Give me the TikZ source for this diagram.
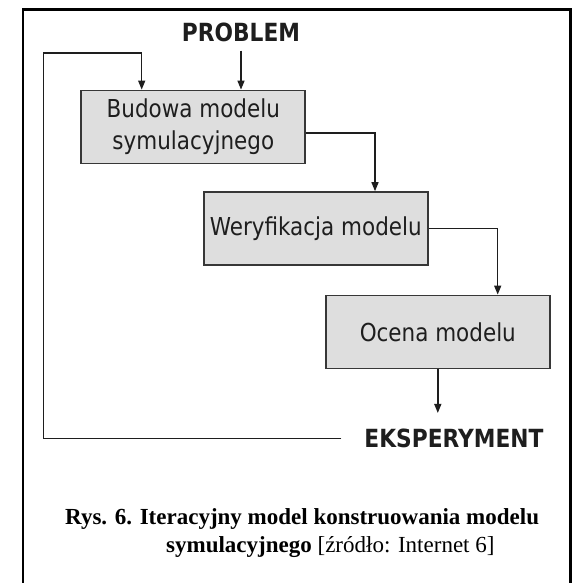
\documentclass[tikz,border=0pt]{standalone}
\usepackage{fontspec}
\setmainfont{Liberation Serif}
\newfontfamily\diagfont[FakeStretch=0.87]{DejaVu Sans}
\usetikzlibrary{arrows.meta}
\definecolor{boxfill}{RGB}{222,222,222}
\definecolor{boxline}{RGB}{55,55,55}
\definecolor{ink}{RGB}{30,30,30}
\begin{document}
\begin{tikzpicture}[x=1pt,y=-1pt,
  stagebox/.style={draw=boxline, line width=1.8pt, fill=boxfill, inner sep=0pt,
    minimum width=224pt, minimum height=73pt, align=center, text=ink,
    font=\diagfont\fontsize{24.7}{32}\selectfont},
  label/.style={inner sep=0pt, text=ink, font=\diagfont\bfseries\fontsize{25}{30}\selectfont},
  flow/.style={draw=ink, line width=1.4pt, -{Triangle[length=9pt,width=7pt]}},
  captionline/.style={inner sep=0pt, anchor=base west, font=\fontsize{23}{28}\selectfont}]
  \useasboundingbox (0,0) rectangle (578,583);
  \fill[white] (0,0) rectangle (578,583);
  % outer frame, open at the bottom edge of the page
  \draw[line width=2.2pt, black] (22.7,600) -- (22.7,9.5) -- (570.5,9.5) -- (570.5,600);

  % labels and stages
  \node[label, anchor=base] (prob) at (241,42) {PROBLEM};
  \node[stagebox] (b1) at (193.3,127) {Budowa modelu\\symulacyjnego};
  \node[stagebox] (b2) at (315.8,228.6) {Weryfikacja modelu};
  \node[stagebox] (b3) at (437.8,332) {Ocena modelu};
  \node[label, anchor=base] (eks) at (454,447.7) {EKSPERYMENT};

  % connectors
  \coordinate (loopcorner) at (43.5,53);
  \draw[flow] ([yshift=-8pt]prob.south) -- (prob.south |- b1.north);
  \draw[flow] ([yshift=-6pt]b1.east) -| ([xshift=59.2pt]b2.north);
  \draw[flow] (b2.east) -| ([xshift=59.9pt]b3.north);
  \draw[flow, shorten >=16pt] (b3.south) -- (b3.south |- eks.north);
  \draw[flow] ([xshift=-23pt]eks.west) -| (loopcorner) -| ([xshift=-51.6pt]b1.north);

  % caption
  \node[captionline] (cap1) at (65,524) {\textbf{Rys. 6. Iteracyjny model konstruowania modelu}};
  \node[captionline] (cap2) at (166,552) {\textbf{symulacyjnego} [źródło: Internet 6]};
\end{tikzpicture}
\end{document}
